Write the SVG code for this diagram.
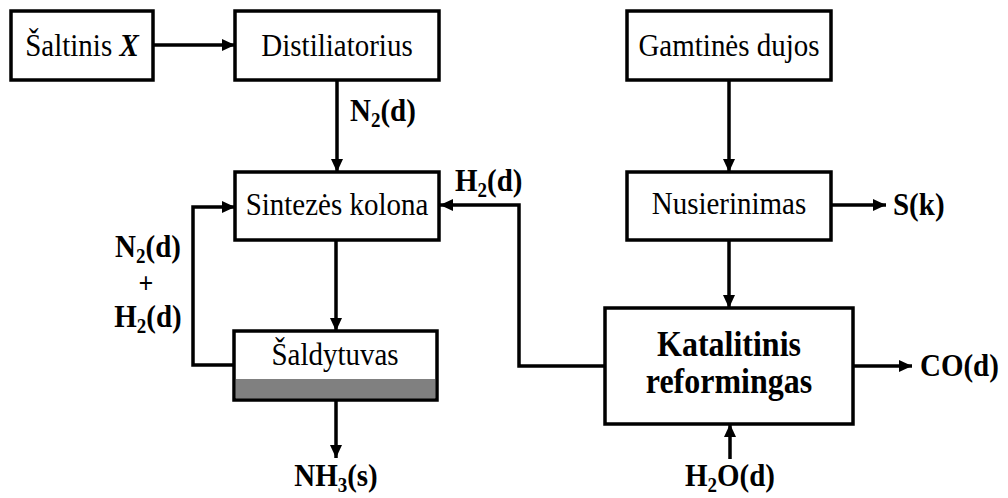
<svg xmlns="http://www.w3.org/2000/svg" width="1008" height="498" viewBox="0 0 1008 498">
<style>
.box{fill:#fff;stroke:#000;stroke-width:3.5}
.c{fill:none;stroke:#000;stroke-width:3.5}
.t{font-family:"Liberation Serif","Times New Roman",serif;font-size:29px;fill:#000}
.b{font-weight:bold}
.m{text-anchor:middle}
.k{font-size:32px}
</style>
<defs>
<marker id="ah" markerUnits="userSpaceOnUse" markerWidth="14" markerHeight="12" refX="13" refY="6" orient="auto">
<path d="M0,0 L13,6 L0,12 Z" fill="#000"/>
</marker>
</defs>
<rect width="1008" height="498" fill="#fff"/>
<g id="connectors">
<line class="c" x1="153" y1="45" x2="235" y2="45" marker-end="url(#ah)"/>
<line class="c" x1="337" y1="80" x2="337" y2="172" marker-end="url(#ah)"/>
<line class="c" x1="729" y1="80" x2="729" y2="172" marker-end="url(#ah)"/>
<line class="c" x1="336" y1="240" x2="336" y2="331" marker-end="url(#ah)"/>
<line class="c" x1="336" y1="400" x2="336" y2="458" marker-end="url(#ah)"/>
<polyline class="c" points="233,365 193,365 193,207 235,207" marker-end="url(#ah)"/>
<polyline class="c" points="605,366 519,366 519,205 440,205" marker-end="url(#ah)"/>
<line class="c" x1="729" y1="240" x2="729" y2="308" marker-end="url(#ah)"/>
<line class="c" x1="832" y1="205" x2="886" y2="205" marker-end="url(#ah)"/>
<line class="c" x1="853" y1="366" x2="912" y2="366" marker-end="url(#ah)"/>
<line class="c" x1="730" y1="459" x2="730" y2="424" marker-end="url(#ah)"/>
</g>
<g id="saltinis">
<rect class="box" x="11" y="11" width="142" height="69"/>
<text class="t m" transform="translate(82,56) scale(1,1.12)">Šaltinis <tspan class="b" font-style="italic">X</tspan></text>
</g>
<g id="distiliatorius">
<rect class="box" x="235" y="11" width="204" height="69"/>
<text class="t m" transform="translate(337,56) scale(1,1.12)">Distiliatorius</text>
</g>
<g id="gamtines">
<rect class="box" x="627" y="11" width="204" height="69"/>
<text class="t m" transform="translate(729,56) scale(1,1.12)">Gamtinės dujos</text>
</g>
<g id="sintezes">
<rect class="box" x="235" y="172" width="204" height="68"/>
<text class="t m" transform="translate(337,215) scale(1,1.12)">Sintezės kolona</text>
</g>
<g id="nusierinimas">
<rect class="box" x="627" y="172" width="204" height="68"/>
<text class="t m" transform="translate(729,214) scale(1,1.12)">Nusierinimas</text>
</g>
<g id="saldytuvas">
<rect class="box" x="234" y="331" width="203" height="69"/>
<rect x="236" y="379" width="199" height="19" fill="#808080"/>
<text class="t m" transform="translate(335,365) scale(1,1.12)">Šaldytuvas</text>
</g>
<g id="katalitinis">
<rect class="box" x="605" y="308" width="248" height="116"/>
<text class="t b m k" transform="translate(729,356) scale(1,1.12)">Katalitinis</text>
<text class="t b m k" transform="translate(729,393) scale(1,1.12)">reformingas</text>
</g>
<g id="labels">
<text class="t b" transform="translate(350,121) scale(1,1.12)">N<tspan font-size="19" dy="5">2</tspan><tspan dy="-5">(d)</tspan></text>
<text class="t b" transform="translate(455,191) scale(1,1.12)">H<tspan font-size="19" dy="5">2</tspan><tspan dy="-5">(d)</tspan></text>
<text class="t b m" transform="translate(148,257) scale(1,1.12)">N<tspan font-size="19" dy="5">2</tspan><tspan dy="-5">(d)</tspan></text>
<text class="t b m" font-size="26" transform="translate(146,293) scale(1,1.12)" style="font-size:26px">+</text>
<text class="t b m" transform="translate(148,327) scale(1,1.12)">H<tspan font-size="19" dy="5">2</tspan><tspan dy="-5">(d)</tspan></text>
<text class="t b" transform="translate(893,215) scale(1,1.12)">S(k)</text>
<text class="t b" transform="translate(920,376) scale(1,1.12)">CO(d)</text>
<text class="t b m" transform="translate(336,486) scale(1,1.12)">NH<tspan font-size="19" dy="5">3</tspan><tspan dy="-5">(s)</tspan></text>
<text class="t b m" transform="translate(730,486) scale(1,1.12)">H<tspan font-size="19" dy="5">2</tspan><tspan dy="-5">O(d)</tspan></text>
</g>
</svg>
